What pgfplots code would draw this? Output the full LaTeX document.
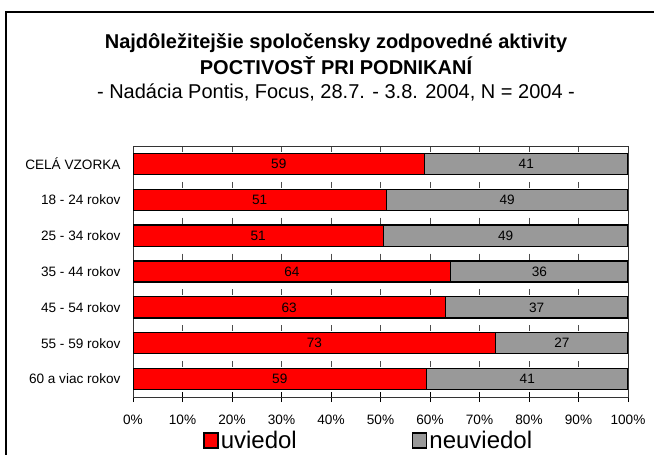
\documentclass[border=0pt]{standalone}
\usepackage{pgfplots}
\usepackage{pgfplotstable}
\pgfplotsset{compat=1.18}
\usepackage{fontspec}
\setmainfont{Liberation Sans}
\definecolor{barred}{RGB}{255,0,0}
\definecolor{bargray}{RGB}{153,153,153}

\pgfplotstableread{
cat u n lu ln
0 58.9 41.1 59 41
1 51.2 48.8 51 49
2 50.6 49.4 51 49
3 64.2 35.8 64 36
4 63.1 36.9 63 37
5 73.3 26.7 73 27
6 59.3 40.7 59 41
}\data

\begin{document}
\begin{tikzpicture}
\useasboundingbox (0,0) rectangle (654bp,455bp);
\draw[line width=1.3bp] (6bp,-5bp) -- (6bp,443bp) -- (670bp,443bp);
\node[anchor=base, inner sep=0pt, font=\fontsize{20bp}{24bp}\selectfont\bfseries] at (336bp,406bp) {Najdôležitejšie spoločensky zodpovedné aktivity};
\node[anchor=base, inner sep=0pt, font=\fontsize{20bp}{24bp}\selectfont\bfseries] at (336bp,380bp) {POCTIVOSŤ PRI PODNIKANÍ};
\node[anchor=base, inner sep=0pt, font=\fontsize{20bp}{24bp}\selectfont] at (336bp,356bp) {- Nadácia Pontis, Focus, 28.7. - 3.8. 2004, N = 2004 -};
\begin{axis}[
  at={(133bp,58bp)}, anchor=south west,
  scale only axis, width=495bp, height=251bp,
  xbar stacked, bar width=0.59,
  xmin=0, xmax=100, ymin=-0.5, ymax=6.5, y dir=reverse,
  xtick={0,10,...,100},
  xticklabels={0\%,10\%,20\%,30\%,40\%,50\%,60\%,70\%,80\%,90\%,100\%},
  ytick={0,...,6},
  yticklabels={CELÁ VZORKA,18 - 24 rokov,25 - 34 rokov,35 - 44 rokov,45 - 54 rokov,55 - 59 rokov,60 a viac rokov},
  minor ytick={-0.5,0.5,...,6.5},
  xtick pos=bottom, ytick pos=left,
  tick align=outside,
  major tick length=10bp, minor tick length=6bp,
  x tick style={black, line width=0.8bp, yshift=5bp},
  y tick style={draw=none},
  minor y tick style={black, line width=0.8bp},
  ticklabel style={font=\fontsize{13.6bp}{16bp}\selectfont},
  xticklabel style={yshift=-4bp},
  yticklabel style={xshift=1bp},
  axis line style={black!80, line width=0.8bp},
  xmajorgrids,
  major x grid style={black!70, line width=0.8bp, dash pattern=on 6bp off 29.857bp},
  legend style={at={(0.1414,-0.175)}, anchor=west, draw=none, fill=none,
    legend columns=2, font=\fontsize{24bp}{28bp}\selectfont, inner sep=0pt,
    /tikz/every even column/.append style={column sep=113bp}},
  legend image code/.code={\draw[#1, line width=1.6bp] (0bp,-7bp) rectangle (14bp,8bp);},
]
\addplot[fill=barred, draw=black, line width=1.3bp] table[x=u, y=cat] {\data};
\addplot[fill=bargray, draw=black, line width=1.3bp] table[x=n, y=cat] {\data};
\legend{uviedol, neuviedol}
\end{axis}
\begin{axis}[
  at={(133bp,58bp)}, anchor=south west,
  scale only axis, width=495bp, height=251bp,
  xmin=0, xmax=100, ymin=-0.5, ymax=6.5, y dir=reverse,
  hide axis, clip=false,
  every node near coord/.append style={font=\fontsize{13.6bp}{16bp}\selectfont, anchor=center, inner sep=0pt},
]
\addplot[draw=none, mark=none, nodes near coords={\pgfplotspointmeta}, point meta=explicit symbolic]
  table[x expr=\thisrow{u}/2, y=cat, meta=lu] {\data};
\addplot[draw=none, mark=none, nodes near coords={\pgfplotspointmeta}, point meta=explicit symbolic]
  table[x expr=\thisrow{u}+\thisrow{n}/2, y=cat, meta=ln] {\data};
\end{axis}
\end{tikzpicture}
\end{document}
